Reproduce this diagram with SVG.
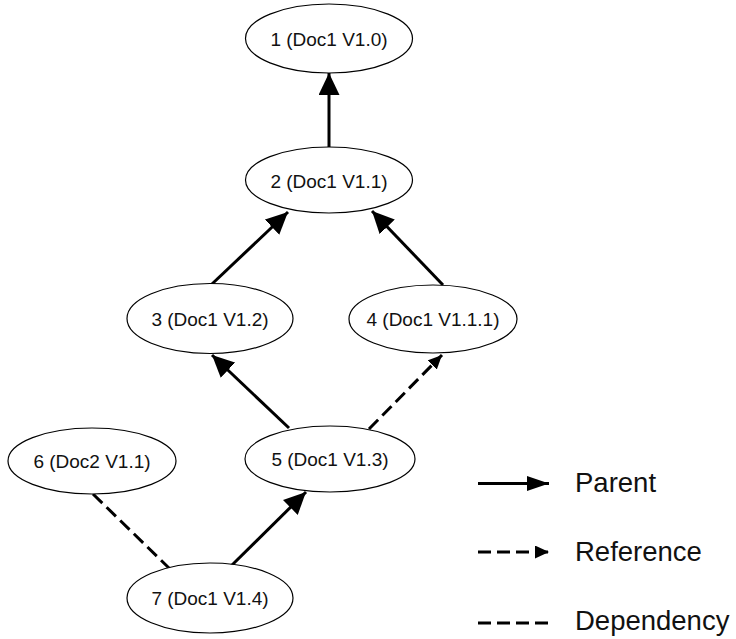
<svg xmlns="http://www.w3.org/2000/svg" width="736" height="639" viewBox="0 0 736 639">
<style>
.node ellipse{fill:#fff;stroke:#000;stroke-width:1.2}
.node text{font-family:"Liberation Sans",Arial,sans-serif;font-size:19px;fill:#111;text-anchor:middle}
.parent{stroke:#000;stroke-width:3;fill:none}
.dash{stroke:#000;stroke-width:3;fill:none;stroke-dasharray:13 6}
.legend{font-family:"Liberation Sans",Arial,sans-serif;font-size:27.5px;fill:#111}
</style>
<defs>
<marker id="arrowP" markerUnits="userSpaceOnUse" markerWidth="22" markerHeight="21" refX="22" refY="10.5" orient="auto"><path d="M0,0 L22,10.5 L0,21 z" fill="#000"/></marker>
<marker id="arrowPL" markerUnits="userSpaceOnUse" markerWidth="22" markerHeight="15" refX="22" refY="7.5" orient="auto"><path d="M0,0 L22,7.5 L0,15 z" fill="#000"/></marker>
<marker id="arrowR" markerUnits="userSpaceOnUse" markerWidth="14" markerHeight="13" refX="14" refY="6.5" orient="auto"><path d="M0,0 L14,6.5 L0,13 z" fill="#000"/></marker>
</defs>
<rect width="736" height="639" fill="#fff"/>
<g id="connectors">
<line class="parent" x1="329" y1="147" x2="329" y2="73" marker-end="url(#arrowP)"/>
<line class="parent" x1="212" y1="284" x2="288" y2="212" marker-end="url(#arrowP)"/>
<line class="parent" x1="443" y1="285" x2="372" y2="211" marker-end="url(#arrowP)"/>
<line class="parent" x1="289" y1="428" x2="212" y2="355" marker-end="url(#arrowP)"/>
<line class="dash" x1="369" y1="429" x2="442" y2="355" marker-end="url(#arrowR)"/>
<line class="parent" x1="230" y1="567" x2="306" y2="492" marker-end="url(#arrowP)"/>
<line class="dash" x1="93" y1="494" x2="170" y2="569"/>
</g>
<g id="node1" class="node"><ellipse cx="329" cy="38.5" rx="83.5" ry="34.5"/><text x="329" y="46">1 (Doc1 V1.0)</text></g>
<g id="node2" class="node"><ellipse cx="329" cy="180" rx="83.5" ry="33"/><text x="329" y="188">2 (Doc1 V1.1)</text></g>
<g id="node3" class="node"><ellipse cx="210" cy="318.5" rx="83" ry="35"/><text x="210" y="326">3 (Doc1 V1.2)</text></g>
<g id="node4" class="node"><ellipse cx="433" cy="319" rx="84" ry="34"/><text x="433" y="326">4 (Doc1 V1.1.1)</text></g>
<g id="node5" class="node"><ellipse cx="330" cy="459" rx="85" ry="33"/><text x="330" y="466">5 (Doc1 V1.3)</text></g>
<g id="node6" class="node"><ellipse cx="92" cy="461" rx="84" ry="33"/><text x="92" y="468">6 (Doc2 V1.1)</text></g>
<g id="node7" class="node"><ellipse cx="210" cy="598" rx="83" ry="35"/><text x="210" y="605">7 (Doc1 V1.4)</text></g>
<g id="legend">
<line class="parent" x1="478" y1="483.5" x2="549" y2="483.5" marker-end="url(#arrowPL)"/>
<text class="legend" x="575" y="492">Parent</text>
<line class="dash" x1="478" y1="552" x2="549" y2="552" marker-end="url(#arrowR)" stroke-dasharray="14 5.5"/>
<text class="legend" x="575" y="561">Reference</text>
<line class="dash" x1="478" y1="623" x2="549" y2="623" stroke-dasharray="14 5"/>
<text class="legend" x="575" y="630">Dependency</text>
</g>
</svg>
